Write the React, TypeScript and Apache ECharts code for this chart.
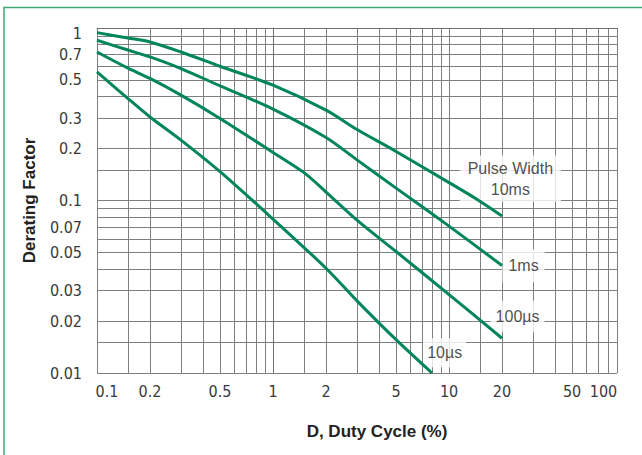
import React, { useEffect, useRef } from "react";
import * as echarts from "echarts";

// ---- axes ----
const xMin = 0.1;
const xMax = 90;
const yMin = 0.01;
const yMax = 1;
const xGridValues = [0.1, 0.15, 0.2, 0.3, 0.4, 0.5, 0.6, 0.7, 0.8, 0.9, 1, 1.5, 2, 3, 4, 5, 6, 7, 8, 9, 10, 15, 20, 30, 40, 50, 60, 70, 80, 90];
const yGridValues = [0.01, 0.015, 0.02, 0.03, 0.04, 0.05, 0.06, 0.07, 0.08, 0.09, 0.1, 0.15, 0.2, 0.3, 0.4, 0.5, 0.6, 0.7, 0.8, 0.9, 1];
const xTickValues = [0.1, 0.2, 0.5, 1, 2, 5, 10, 20, 50, 90];
const xTickLabels = ["0.1", "0.2", "0.5", "1", "2", "5", "10", "20", "50", "100"];
const yTickValues = [0.01, 0.02, 0.03, 0.05, 0.07, 0.1, 0.2, 0.3, 0.5, 0.7, 1];
const yTickLabels = ["0.01", "0.02", "0.03", "0.05", "0.07", "0.1", "0.2", "0.3", "0.5", "0.7", "1"];

// ---- series (duty cycle %, derating factor) ----
const duty10ms = [0.1, 0.15, 0.2, 0.3, 0.5, 1, 2, 3, 5, 10, 14.3, 20];
const derate10ms = [0.94, 0.875, 0.83, 0.726, 0.6, 0.466, 0.334, 0.258, 0.1925, 0.127, 0.102, 0.0813];

const duty1ms = [0.1, 0.15, 0.2, 0.3, 0.5, 1, 2, 3, 5, 10, 20];
const derate1ms = [0.849, 0.745, 0.68, 0.582, 0.462, 0.339, 0.232, 0.172, 0.118, 0.071, 0.042];

const duty100us = [0.1, 0.15, 0.2, 0.3, 0.5, 1, 1.5, 2, 3, 5, 10, 20];
const derate100us = [0.726, 0.585, 0.51, 0.408, 0.299, 0.19, 0.145, 0.112, 0.077, 0.0506, 0.0285, 0.0159];

const duty10us = [0.1, 0.15, 0.2, 0.3, 0.5, 1, 2, 3, 5, 8];
const derate10us = [0.556, 0.39, 0.305, 0.224, 0.147, 0.078, 0.0405, 0.0262, 0.0156, 0.01];

const seriesNames = ["10ms", "1ms", "100µs", "10µs"];
const labelTexts = ["Pulse Width\n10ms", "1ms", "100µs", "10µs"];
const labelDuty = [22.3, 26.5, 24.5, 9.44];
const labelDerate = [0.134, 0.0418, 0.0213, 0.0131];

const L = (v: number) => Math.log10(v);
const LINE_COLOR = "#00855c";
const GRID_COLOR = "#7f7f7f";
const TICK_FONT = '"Liberation Sans Narrow", "DejaVu Sans Condensed", "Liberation Sans", sans-serif';
const TEXT_FONT = '"Liberation Sans", Arial, Helvetica, sans-serif';

function findLabel(values: number[], v: number) {
  for (let i = 0; i < values.length; i++) {
    if (Math.abs(L(values[i]) - v) < 1e-6) return i;
  }
  return -1;
}

export default function App() {
  const ref = useRef<HTMLDivElement>(null);

  useEffect(() => {
    if (!ref.current) return;
    const chart = echarts.init(ref.current, undefined, { renderer: "svg" });

    const allX = [duty10ms, duty1ms, duty100us, duty10us];
    const allY = [derate10ms, derate1ms, derate100us, derate10us];
    const pads = [
      [2, 8, 2, 8],
      [6, 6, 6, 6],
      [5, 5, 5, 5],
      [4, 4, 4, 4],
    ];

    const lineSeries = seriesNames.map((name, s) => ({
      name,
      type: "line",
      data: allX[s].map((x, i) => [L(x), L(allY[s][i])]),
      showSymbol: false,
      symbol: "none",
      smooth: 0.3,
      lineStyle: { color: LINE_COLOR, width: 3 },
      z: 4,
      silent: true,
    }));

    const labelSeries = {
      name: "labels",
      type: "scatter",
      z: 2,
      silent: true,
      symbolSize: 0,
      data: labelTexts.map((t, s) => ({
        value: [L(labelDuty[s]), L(labelDerate[s])],
        label: {
          show: true,
          position: "inside",
          formatter: t,
          color: "#222",
          fontSize: 16,
          lineHeight: 21,
          fontFamily: TEXT_FONT,
          backgroundColor: "#ffffff",
          padding: pads[s],
        },
      })),
    };

    const tickStyle = { fontSize: 16, color: "#3a3a3a", fontFamily: TICK_FONT };
    const titleStyle = { fontSize: 17, fontWeight: "bold", color: "#222", fontFamily: TEXT_FONT };

    chart.setOption({
      animation: false,
      backgroundColor: "#ffffff",
      grid: { left: 97, top: 28, width: 520, height: 345 },
      xAxis: {
        type: "value",
        min: L(xMin),
        max: L(xMax),
        axisLine: { show: true, lineStyle: { color: "#707070", width: 1 } },
        axisTick: { show: false, customValues: xGridValues.map(L) },
        splitLine: { show: true, lineStyle: { color: GRID_COLOR, width: 1 } },
        axisLabel: {
          customValues: xTickValues.map(L),
          margin: 10,
          showMinLabel: true,
          showMaxLabel: true,
          hideOverlap: false,
          ...tickStyle,
          formatter: (v: number) => {
            const i = findLabel(xTickValues, v);
            if (i < 0) return "";
            const s = xTickLabels[i];
            if (i === 0) return "{first|" + s + "}";
            if (i === xTickValues.length - 1) return "{last|" + s + "}";
            return s;
          },
          rich: {
            first: { ...tickStyle, padding: [0, 0, 0, 20] },
            last: { ...tickStyle, padding: [0, 27, 0, 0] },
          },
        },
        name: "D, Duty Cycle (%)",
        nameLocation: "middle",
        nameGap: 50,
        nameTextStyle: { ...titleStyle, padding: [0, 0, 0, 40] },
      },
      yAxis: {
        type: "value",
        min: L(yMin),
        max: L(yMax),
        axisLine: { show: true, lineStyle: { color: "#707070", width: 1 } },
        axisTick: { show: false, customValues: yGridValues.map(L) },
        splitLine: { show: true, lineStyle: { color: GRID_COLOR, width: 1 } },
        axisLabel: {
          customValues: yTickValues.map(L),
          margin: 15,
          showMinLabel: true,
          showMaxLabel: true,
          hideOverlap: false,
          ...tickStyle,
          formatter: (v: number) => {
            const i = findLabel(yTickValues, v);
            if (i < 0) return "";
            const s = yTickLabels[i];
            if (i === yTickValues.length - 1) return "{top|" + s + "}";
            return s;
          },
          rich: {
            top: { ...tickStyle, padding: [10, 0, 0, 0] },
          },
        },
        name: "Derating Factor",
        nameLocation: "middle",
        nameGap: 59,
        nameTextStyle: titleStyle,
      },
      graphic: [
        {
          type: "rect",
          silent: true,
          z: 100,
          shape: { x: 4, y: 7.5, width: 700, height: 500 },
          style: { fill: "none", stroke: "#3fa877", lineWidth: 1.5 },
        },
      ],
      series: [labelSeries, ...lineSeries],
    });

    return () => chart.dispose();
  }, []);

  return (
    <div
      ref={ref}
      style={{ position: "fixed", left: 0, top: 0, width: 642, height: 455, background: "#fff" }}
    />
  );
}
